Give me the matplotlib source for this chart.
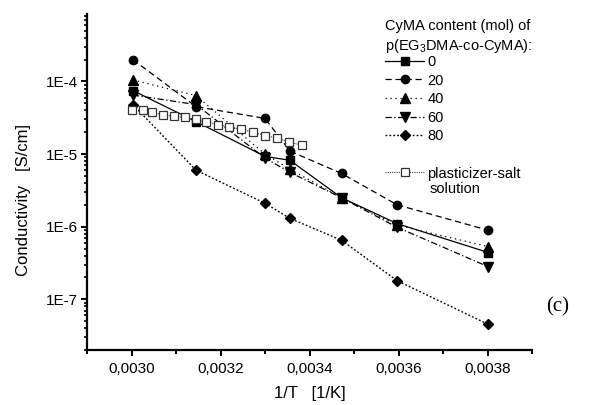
import numpy as np
import matplotlib
matplotlib.use('Agg')
import matplotlib.pyplot as plt
import matplotlib.ticker as ticker
from matplotlib.lines import Line2D

plt.rcParams['font.family'] = ['Liberation Sans', 'DejaVu Sans']
plt.rcParams['mathtext.default'] = 'regular'

# 1/T [1/K] of the copolymer measurements
inv_T = [0.003003, 0.003145, 0.003300, 0.003356, 0.003472, 0.003597, 0.003802]

# conductivity [S/cm] per CyMA content
cyma_0 = [7.5e-5, 2.8e-5, 9.3e-6, 8.2e-6, 2.5e-6, 1.1e-6, 4.4e-7]
cyma_20 = [2.0e-4, 4.5e-5, 3.1e-5, 1.1e-5, 5.4e-6, 2.0e-6, 8.9e-7]
cyma_40 = [1.05e-4, 6.4e-5, 1.0e-5, 6.2e-6, 2.5e-6, 1.05e-6, 5.3e-7]
cyma_60 = [6.5e-5, 4.8e-5, 8.8e-6, 5.6e-6, 2.5e-6, 9.8e-7, 2.8e-7]
cyma_80 = [4.8e-5, 6.0e-6, 2.1e-6, 1.3e-6, 6.5e-7, 1.8e-7, 4.5e-8]

# plasticizer-salt solution
inv_T_pl = [0.003000, 0.003025, 0.003047, 0.003070, 0.003095, 0.003120, 0.003145, 0.003167,
            0.003194, 0.003219, 0.003246, 0.003273, 0.003301, 0.003328, 0.003355, 0.003384]
cond_pl = [4.1e-5, 4.0e-5, 3.75e-5, 3.5e-5, 3.3e-5, 3.2e-5, 3.0e-5, 2.75e-5,
           2.55e-5, 2.35e-5, 2.2e-5, 2.0e-5, 1.8e-5, 1.65e-5, 1.45e-5, 1.33e-5]

labels = ['0', '20', '40', '60', '80']

fig = plt.figure(figsize=(6.01, 4.05), dpi=100)
ax = fig.add_axes([87/601, 1-350/405, 445/601, 336/405])

h0, = ax.plot(inv_T, cyma_0, color='k', lw=0.9, ls='-', marker='s', ms=5.5, label=labels[0])
h20, = ax.plot(inv_T, cyma_20, color='k', lw=0.9, dashes=(5, 3), marker='o', ms=6, label=labels[1])
h40, = ax.plot(inv_T, cyma_40, color='k', lw=0.9, dashes=(1, 3), marker='^', ms=6.5, label=labels[2])
h60, = ax.plot(inv_T, cyma_60, color='k', lw=0.9, dashes=(5, 2, 1, 2), marker='v', ms=6.5, label=labels[3])
h80, = ax.plot(inv_T, cyma_80, color='k', lw=1.0, dashes=(1.3, 1.5), marker='D', ms=5, label=labels[4])
hpl, = ax.plot(inv_T_pl, cond_pl, color='#444444', lw=0.8, dashes=(1, 1), marker='s', ms=6,
               mfc='white', mec='#333333', mew=0.9, label='plasticizer-salt')

ax.set_yscale('log')
ax.set_xlim(0.0029, 0.0039)
ax.set_ylim(2e-8, 8.5e-4)

for s in ['top', 'right']:
    ax.spines[s].set_visible(False)
for s in ['left', 'bottom']:
    ax.spines[s].set_linewidth(1.6)

ax.xaxis.set_major_locator(ticker.MultipleLocator(0.0002))
ax.xaxis.set_minor_locator(ticker.MultipleLocator(0.0001))
ax.xaxis.set_major_formatter(ticker.FuncFormatter(lambda v, p: ('%.4f' % v).replace('.', ',')))
ax.yaxis.set_major_locator(ticker.LogLocator(base=10, numticks=20))
ax.yaxis.set_minor_locator(ticker.LogLocator(base=10, subs=np.arange(2, 10), numticks=20))
ax.yaxis.set_minor_formatter(ticker.NullFormatter())
ax.yaxis.set_major_formatter(ticker.FuncFormatter(lambda v, p: '1E%d' % int(round(np.log10(v)))))

ax.tick_params(axis='both', which='major', direction='out', width=1.4, labelsize=11, color='k')
ax.tick_params(axis='x', which='major', length=4.5, pad=4)
ax.tick_params(axis='x', which='minor', length=3, width=1.4)
ax.tick_params(axis='y', which='major', length=4, pad=2.5)
ax.tick_params(axis='y', which='minor', length=2.5, width=1.2)

ax.set_xlabel('1/T   [1/K]', fontsize=12, labelpad=7)
ax.set_ylabel('Conductivity   [S/cm]', fontsize=12)
ax.yaxis.set_label_coords(-0.125, 0.446)

# legend heading
fig.text(385/601, 1-26/405, 'CyMA content (mol) of', fontsize=10.5, va='center', ha='left')
fig.text(385/601, 1-46/405, 'p(EG$_3$DMA-co-CyMA):', fontsize=10.5, va='center', ha='left')

blank = Line2D([], [], color='none')
leg = fig.legend([h0, h20, h40, h60, h80, blank, hpl],
                 labels + ['', 'plasticizer-salt'],
                 loc='upper left', bbox_to_anchor=(385/601, 1-55/405),
                 frameon=False, fontsize=10.5,
                 numpoints=1, handlelength=2.7, handletextpad=0.2,
                 labelspacing=0.315, borderpad=0, borderaxespad=0)
fig.text(430/601, 1-189/405, 'solution', fontsize=10.5, va='center', ha='left')

fig.text(558/601, 1-307/405, '(c)', fontsize=15, family='Liberation Serif', va='center', ha='center')

fig.savefig('out.png', dpi=100)
